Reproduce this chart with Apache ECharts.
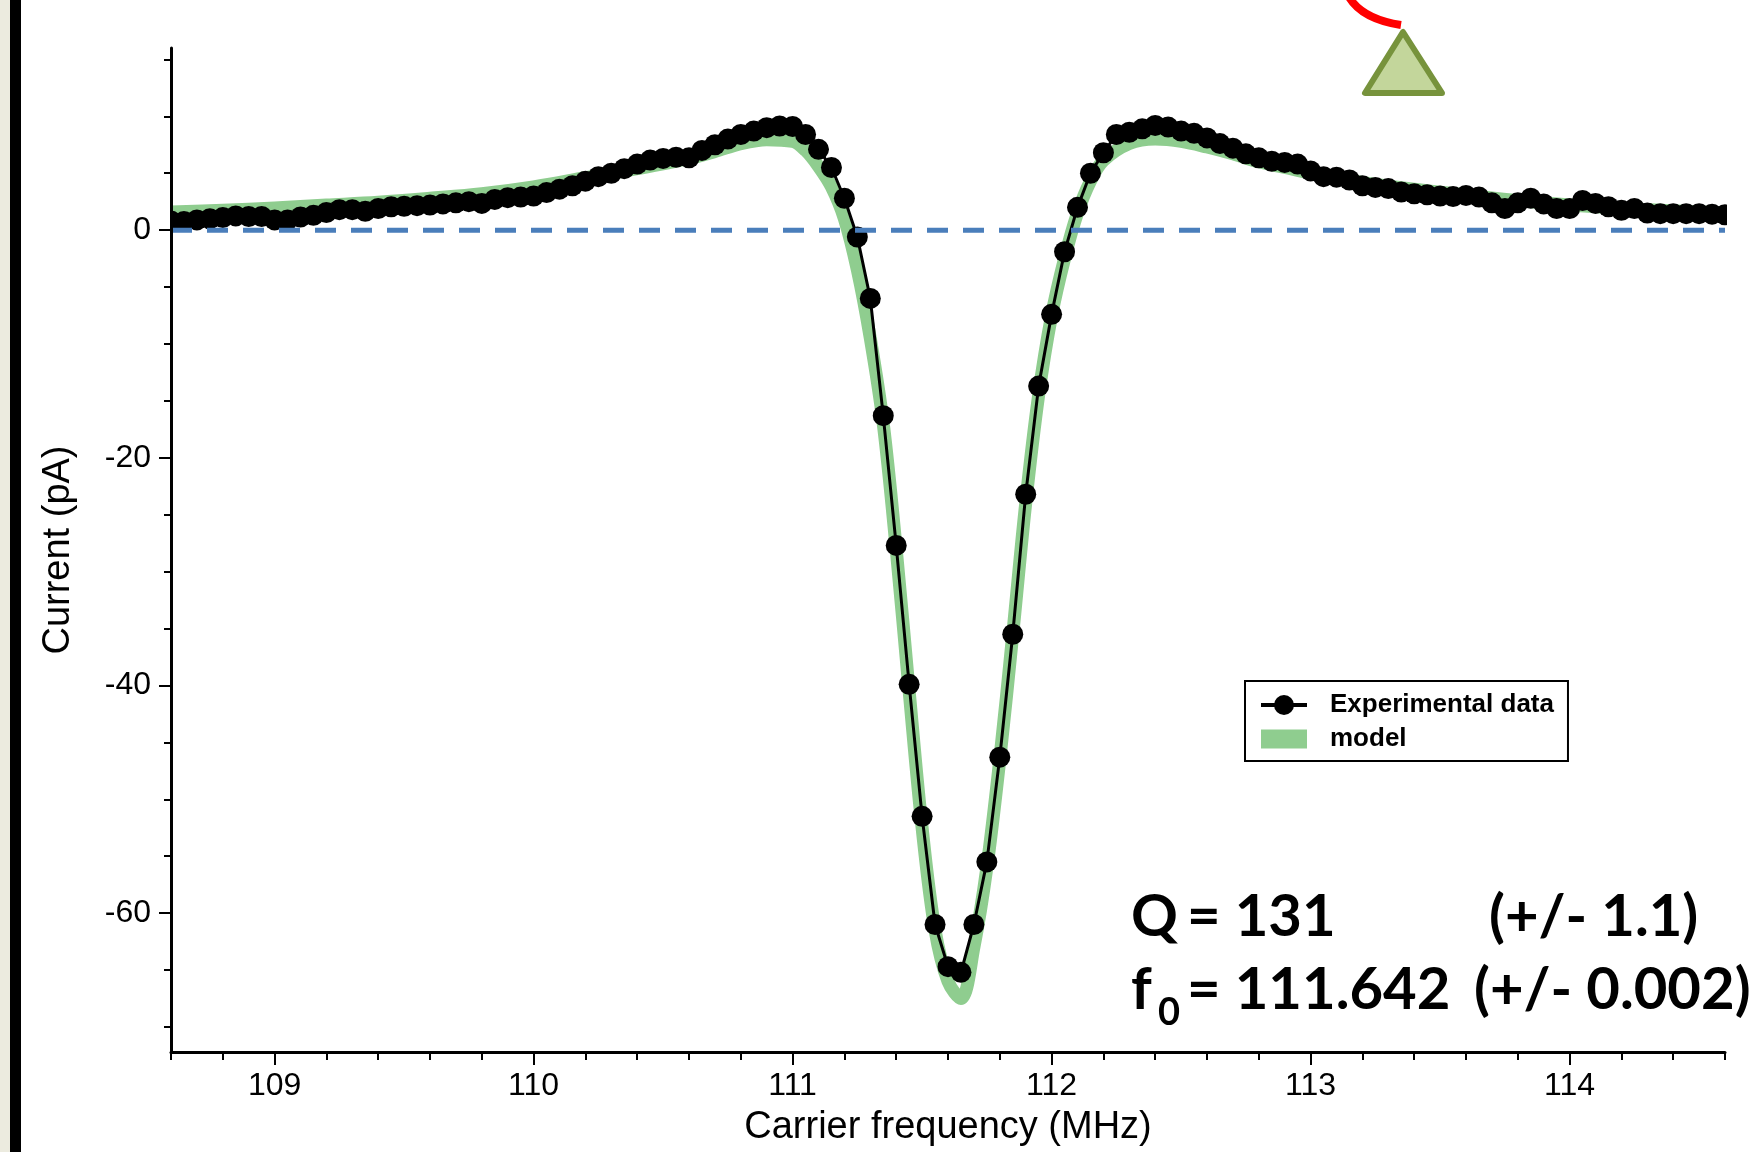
<!DOCTYPE html>
<html>
<head>
<meta charset="utf-8">
<script src="https://cdn.jsdelivr.net/npm/echarts@6/dist/echarts.min.js"></script>
<style>
html,body{margin:0;padding:0;background:#fff;}
#chart{width:1751px;height:1152px;}
</style>
</head>
<body>
<div id="chart"></div>
<script>
// ---------- data ----------
const freqMHz = [108.6,108.65,108.7,108.75,108.8,108.85,108.9,108.95,
  109,109.05,109.1,109.15,109.2,109.25,109.3,109.35,
  109.4,109.45,109.5,109.55,109.6,109.65,109.7,109.75,
  109.8,109.85,109.9,109.95,110,110.05,110.1,110.15,
  110.2,110.25,110.3,110.35,110.4,110.45,110.5,110.55,
  110.6,110.65,110.7,110.75,110.8,110.85,110.9,110.95,
  111,111.05,111.1,111.15,111.2,111.25,111.3,111.35,
  111.4,111.45,111.5,111.55,111.6,111.65,111.7,111.75,
  111.8,111.85,111.9,111.95,112,112.05,112.1,112.15,
  112.2,112.25,112.3,112.35,112.4,112.45,112.5,112.55,
  112.6,112.65,112.7,112.75,112.8,112.85,112.9,112.95,
  113,113.05,113.1,113.15,113.2,113.25,113.3,113.35,
  113.4,113.45,113.5,113.55,113.6,113.65,113.7,113.75,
  113.8,113.85,113.9,113.95,114,114.05,114.1,114.15,
  114.2,114.25,114.3,114.35,114.4,114.45,114.5,114.55,
  114.6];
const currentPA = [0.8,0.75,0.9,1.0,1.1,1.25,1.2,1.2,
  0.9,0.9,1.15,1.3,1.55,1.8,1.8,1.65,
  1.9,2.05,2.1,2.15,2.2,2.3,2.4,2.5,
  2.35,2.7,2.85,2.9,3.0,3.3,3.6,3.9,
  4.3,4.7,5.0,5.4,5.8,6.15,6.3,6.4,
  6.35,7.0,7.5,8.0,8.4,8.7,9.0,9.15,
  9.1,8.4,7.1,5.5,2.8,-0.6,-6.0,-16.3,
  -27.7,-39.9,-51.5,-61.0,-64.7,-65.2,-61.0,-55.5,
  -46.3,-35.5,-23.2,-13.7,-7.4,-1.9,2.0,5.0,
  6.8,8.4,8.6,8.9,9.2,9.05,8.7,8.5,
  8.1,7.6,7.2,6.7,6.35,6.05,5.95,5.8,
  5.2,4.7,4.65,4.4,3.9,3.75,3.65,3.35,
  3.2,3.1,3.0,2.95,3.05,2.9,2.4,1.9,
  2.4,2.8,2.3,1.9,1.9,2.6,2.35,2.05,
  1.75,1.9,1.5,1.45,1.45,1.45,1.45,1.4,
  1.35];
const modelFreqMHz = [108.6,108.8,109.0,109.2,109.4,109.6,109.8,110.0,110.2,110.4,110.6,110.7,110.8,110.9,111.0,
  111.05,111.1,111.15,111.2,111.25,111.3,111.35,111.4,111.45,111.5,111.55,111.6,111.65,111.7,111.75,
  111.8,111.85,111.9,111.95,112.0,112.05,112.1,112.15,112.2,112.3,112.4,112.5,112.6,112.7,112.8,
  112.9,113.0,113.2,113.4,113.6,113.8,114.0,114.2,114.4,114.6];
const modelPA = [1.6,1.75,1.95,2.2,2.45,2.8,3.2,3.8,4.6,5.4,6.3,6.9,7.6,7.95,7.8,
  7.0,5.6,3.8,1.0,-3.5,-9.5,-17,-28,-40.5,-52.5,-61.5,-66,-67.5,-63,-56,
  -46.5,-35.5,-24,-14.5,-7.5,-2.5,1.5,4.3,6.1,7.6,8.0,7.8,7.3,6.7,6.0,
  5.5,5.0,4.2,3.6,3.1,2.6,2.2,1.9,1.7,1.5];
const zeroLineFreq = [108.6, 114.6];
const zeroLinePA = [0, 0];

const xMajorTicks = [109,110,111,112,113,114];
const xMinorTicks = [108.6,108.8,109.0,109.2,109.4,109.6,109.8,110.0,110.2,110.4,110.6,110.8,111.0,111.2,111.4,111.6,111.8,
  112.0,112.2,112.4,112.6,112.8,113.0,113.2,113.4,113.6,113.8,114.0,114.2,114.4,114.6];
const yMajorTicks = [-60,-40,-20,0];
const yMinorTicks = [-70,-65,-60,-55,-50,-45,-40,-35,-30,-25,-20,-15,-10,-5,0,5,10,15];

const xRange = [108.6, 114.6];
const yRange = [-72.2, 16];

const seriesNames = ['Experimental data', 'model'];
const annotationQ = ['Q', '= 131', '(+/- 1.1)'];
const annotationF = ['f', '0', '= 111.642', '(+/- 0.002)'];

// ---------- chart ----------
const zip = (a, b) => a.map((v, i) => [v, b[i]]);
const AX = 'Liberation Sans';
const chart = echarts.init(document.getElementById('chart'), null, {renderer: 'canvas'});

const axisCommon = {
  type: 'value', z: 100,
  splitLine: {show: false}
};

const ANN = 'bold 58px Lato';
const txt = (x, y, s, font) => ({type: 'text', z: 60, x: x, y: y,
  style: {text: s, font: font || ANN, fill: '#000', textVerticalAlign: 'middle', verticalAlign: 'middle'}});

const option = {
  animation: false,
  backgroundColor: '#ffffff',
  grid: {left: 171, right: 26, top: 48, bottom: 96, containLabel: false},
  legend: {
    left: 1245, top: 681, orient: 'vertical',
    padding: [10, 14, 8, 14],
    itemWidth: 46, itemHeight: 25, itemGap: 6,
    borderColor: '#000', borderWidth: 2, backgroundColor: '#fff',
    textStyle: {fontSize: 26, fontWeight: 'bold', fontFamily: AX, color: '#000', padding: [0, 0, 0, 18], lineHeight: 28},
    lineStyle: {width: 4},
    data: [
      {name: seriesNames[0]},
      {name: seriesNames[1], icon: 'path://M0,0 M46,25 M0,3 L46,3 L46,22 L0,22 Z'}
    ],
    selectedMode: false
  },
  xAxis: [
    Object.assign({}, axisCommon, {
      min: xRange[0], max: xRange[1], position: 'bottom',
      axisLine: {show: true, onZero: false, lineStyle: {color: '#000', width: 3}},
      axisTick: {show: true, customValues: xMajorTicks, length: 13, lineStyle: {color: '#000', width: 2}},
      axisLabel: {show: true, customValues: xMajorTicks, margin: 18, fontSize: 32, fontFamily: AX, color: '#000'},
      name: 'Carrier frequency (MHz)', nameLocation: 'middle', nameGap: 57,
      nameTextStyle: {fontSize: 38, fontFamily: AX, color: '#000'}
    }),
    Object.assign({}, axisCommon, {
      min: xRange[0], max: xRange[1], position: 'bottom',
      axisLine: {show: false, onZero: false},
      axisTick: {show: true, customValues: xMinorTicks, length: 8, lineStyle: {color: '#000', width: 2}},
      axisLabel: {show: false}
    })
  ],
  yAxis: [
    Object.assign({}, axisCommon, {
      min: yRange[0], max: yRange[1], position: 'left',
      axisLine: {show: true, onZero: false, lineStyle: {color: '#000', width: 3}},
      axisTick: {show: true, customValues: yMajorTicks, length: 12, lineStyle: {color: '#000', width: 2}},
      axisLabel: {show: true, customValues: yMajorTicks, margin: 20, fontSize: 32, fontFamily: AX, color: '#000', padding: [10, 0, 0, 0]},
      name: 'Current (pA)', nameLocation: 'middle', nameGap: 93,
      nameTextStyle: {fontSize: 38, fontFamily: AX, color: '#000'}
    }),
    Object.assign({}, axisCommon, {
      min: yRange[0], max: yRange[1], position: 'left',
      axisLine: {show: false, onZero: false},
      axisTick: {show: true, customValues: yMinorTicks, length: 7, lineStyle: {color: '#000', width: 2}},
      axisLabel: {show: false}
    })
  ],
  series: [
    {
      name: seriesNames[1], type: 'line', xAxisIndex: 0, yAxisIndex: 0,
      data: zip(modelFreqMHz, modelPA),
      smooth: 0.35, showSymbol: false, symbol: 'none', clip: true, z: 1,
      itemStyle: {color: '#8fcd8f'},
      lineStyle: {color: '#8fcd8f', width: 13, cap: 'butt', join: 'round'},
      emphasis: {disabled: true}
    },
    {
      name: seriesNames[0], type: 'line', xAxisIndex: 0, yAxisIndex: 0,
      data: zip(freqMHz, currentPA),
      symbol: 'circle', symbolSize: 21, showAllSymbol: true, clip: true, z: 2,
      itemStyle: {color: '#000', borderWidth: 0},
      lineStyle: {color: '#000', width: 3},
      emphasis: {disabled: true}
    },
    {
      name: 'zero', type: 'line', xAxisIndex: 0, yAxisIndex: 0,
      data: zip(zeroLineFreq, zeroLinePA),
      symbol: 'none', z: 3, silent: true,
      lineStyle: {color: '#4a7ebb', width: 5, type: [21, 15]},
      emphasis: {disabled: true}
    }
  ],
  graphic: [
    // slide background strip on the left
    {type: 'rect', z: 60, shape: {x: 0, y: 0, width: 10, height: 1152}, style: {fill: '#ecebdf'}},
    {type: 'rect', z: 60, shape: {x: 10, y: 0, width: 11, height: 1152}, style: {fill: '#000'}},
    // cover marker overflow beyond the plot edges
    {type: 'rect', z: 50, shape: {x: 140, y: 170, width: 30, height: 90}, style: {fill: '#fff'}},
    {type: 'rect', z: 50, shape: {x: 1727, y: 170, width: 24, height: 90}, style: {fill: '#fff'}},
    // decorative slide fragments
    {type: 'bezierCurve', z: 60, shape: {x1: 1349, y1: -3, cpx1: 1362, cpy1: 19, x2: 1401, y2: 25},
      style: {stroke: '#ff0000', lineWidth: 8, fill: null}},
    {type: 'polygon', z: 60, shape: {points: [[1403, 32], [1365, 93], [1442, 93]]},
      style: {fill: '#c3d69b', stroke: '#77933c', lineWidth: 6, lineJoin: 'round'}},
    // annotation
    txt(1131, 917, annotationQ[0]),
    txt(1187, 917, annotationQ[1]),
    txt(1489, 917, annotationQ[2]),
    txt(1131, 990, annotationF[0]),
    txt(1158, 1013, annotationF[1], 'bold 38px Lato'),
    txt(1187, 990, annotationF[2]),
    txt(1474, 990, annotationF[3])
  ]
};
chart.setOption(option);
</script>
</body>
</html>
